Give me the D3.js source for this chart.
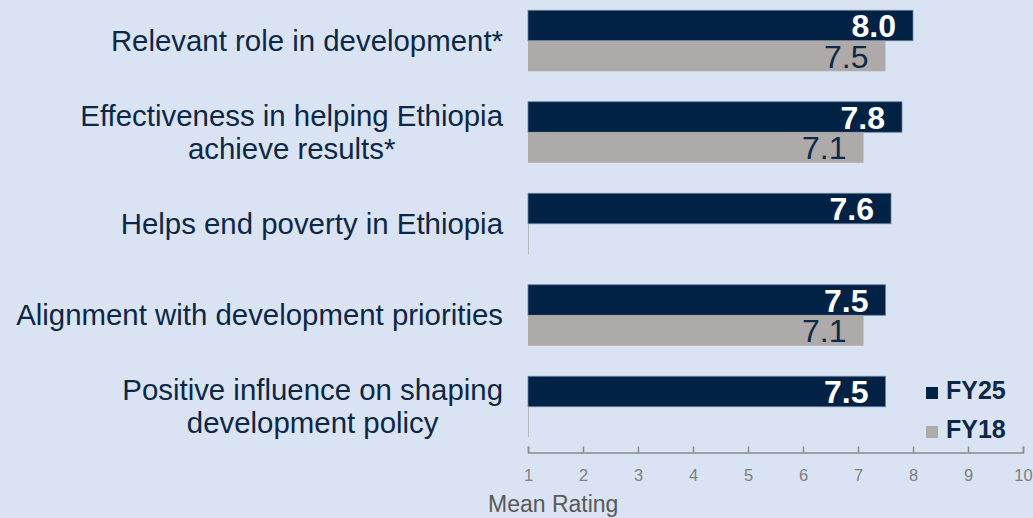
<!DOCTYPE html>
<html>
<head>
<meta charset="utf-8">
<script src="https://cdn.jsdelivr.net/npm/d3@7"></script>
<style>
  html, body { margin: 0; padding: 0; background: #dae3f3; }
  svg { display: block; font-family: "Liberation Sans", Arial, sans-serif; }
</style>
</head>
<body>
<svg id="chart" width="1033" height="518"></svg>
<script>
// ---- data ----
const categories = [
  "Relevant role in development*",
  "Effectiveness in helping Ethiopia\nachieve results*",
  "Helps end poverty in Ethiopia",
  "Alignment with development priorities",
  "Positive influence on shaping\ndevelopment policy"
];
const seriesNames = ["FY25", "FY18"];
const fy25 = [8.0, 7.8, 7.6, 7.5, 7.5];
const fy18 = [7.5, 7.1, null, 7.1, null];
const tickValues = [1, 2, 3, 4, 5, 6, 7, 8, 9, 10];
const axisTitle = "Mean Rating";

// ---- styles ----
const colors = { FY25: "#012245", FY18: "#aeaaa9" };
const textNavy = "#0c2747";

const svg = d3.select("#chart");
svg.append("rect").attr("width", 1033).attr("height", 518).attr("fill", "#dae3f3");

const x = d3.scaleLinear().domain([1, 10]).range([528, 1023]);
const y = d3.scaleBand().domain(categories).range([-5, 452.5])
  .paddingInner(1 / 3).paddingOuter(1 / 6);
const yi = d3.scaleBand().domain(seriesNames).range([0, y.bandwidth()]).padding(0);

const rows = categories.map((c, i) => ({ cat: c, FY25: fy25[i], FY18: fy18[i] }));

// bars
const g = svg.append("g");
const groups = g.selectAll("g.cat").data(rows).join("g")
  .attr("class", "cat")
  .attr("transform", d => `translate(0,${y(d.cat)})`);

seriesNames.forEach(s => {
  groups.append("rect")
    .attr("x", x(1))
    .attr("y", yi(s))
    .attr("width", d => d[s] == null ? 1 : x(d[s]) - x(1))
    .attr("height", yi.bandwidth())
    .attr("fill", d => d[s] == null ? "#b8b8b8" : colors[s])
    .attr("stroke", d => (d[s] != null && s === "FY25") ? "#6d819e" : "none")
    .attr("stroke-width", 0.8);

  groups.filter(d => d[s] != null).append("text")
    .attr("x", d => x(d[s]) - 17)
    .attr("y", yi(s) + yi.bandwidth() / 2 + 11.5)
    .attr("text-anchor", "end")
    .attr("font-size", 32)
    .attr("font-weight", s === "FY25" ? "bold" : "normal")
    .attr("fill", s === "FY25" ? "#ffffff" : "#0e2a4a")
    .text(d => d3.format(".1f")(d[s]));
});

// category labels
const labelRight = 503;
const lineH = 32.7;
rows.forEach(d => {
  const lines = d.cat.split("\n");
  const t = svg.append("text")
    .attr("font-size", 29.4)
    .attr("fill", textNavy)
    .attr("text-anchor", "middle");
  const cy = y(d.cat) + y.bandwidth() / 2;
  const firstBase = cy + 10 - (lines.length - 1) * lineH / 2;
  const spans = lines.map((ln, k) => t.append("tspan")
    .attr("y", firstBase + k * lineH)
    .text(ln));
  const maxW = d3.max(spans, sp => sp.node().getComputedTextLength());
  spans.forEach(sp => sp.attr("x", labelRight - maxW / 2));
});

// axis
const axis = d3.axisBottom(x).tickValues(tickValues)
  .tickSizeInner(-6).tickSizeOuter(-6).tickPadding(17)
  .tickFormat(d3.format("d"));
const ag = svg.append("g").attr("transform", "translate(0,452.5)").call(axis);
ag.select(".domain").attr("stroke", "#8a8a8a").attr("stroke-width", 1.5);
ag.selectAll(".tick line").attr("stroke", "#8a8a8a").attr("stroke-width", 1.5);
ag.selectAll(".tick text").attr("fill", "#7f7f7f").attr("font-size", 16.5)
  .attr("font-family", "Liberation Sans, Arial, sans-serif");

svg.append("text")
  .attr("x", 488).attr("y", 512)
  .attr("font-size", 23).attr("fill", "#595959")
  .text(axisTitle);

// legend
const legendY = { FY25: 399, FY18: 438 };
seriesNames.forEach(s => {
  svg.append("rect")
    .attr("x", 926).attr("y", legendY[s] - 12)
    .attr("width", 12).attr("height", 12)
    .attr("fill", colors[s]);
  svg.append("text")
    .attr("x", 946).attr("y", legendY[s])
    .attr("font-size", 25).attr("font-weight", "bold")
    .attr("fill", "#0c2747")
    .text(s);
});
</script>
</body>
</html>
